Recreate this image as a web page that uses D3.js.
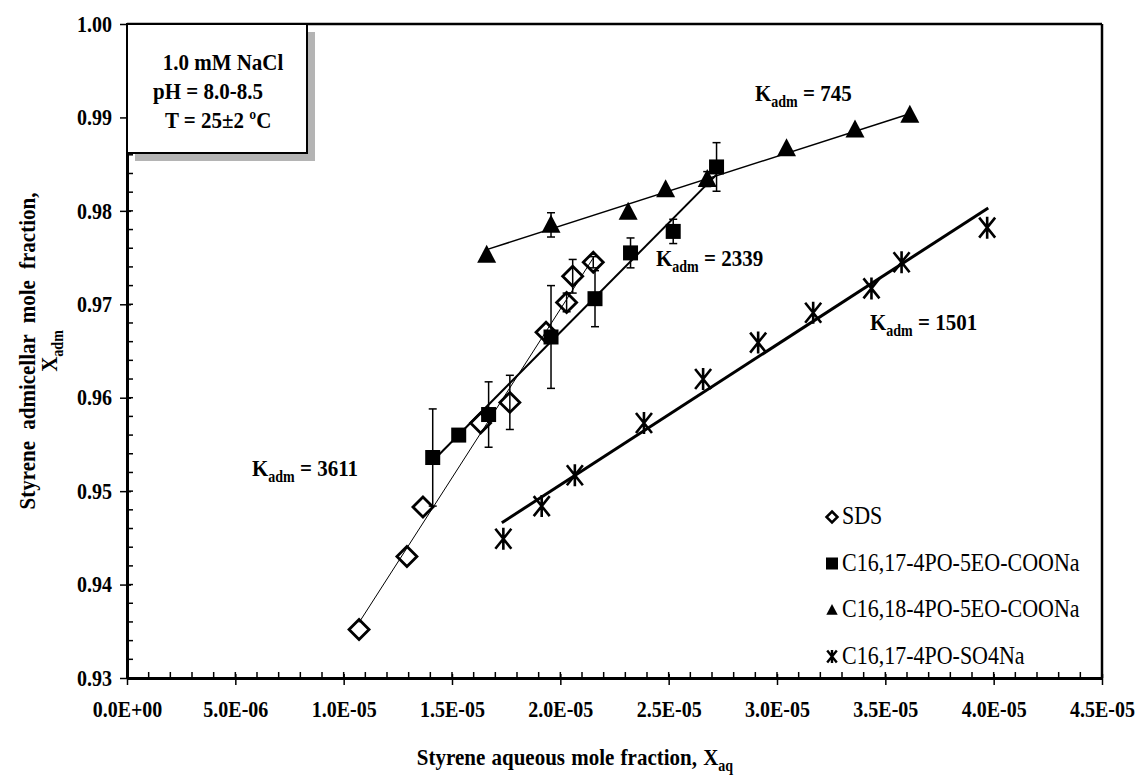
<!DOCTYPE html>
<html>
<head>
<meta charset="utf-8">
<script src="https://cdn.jsdelivr.net/npm/d3@7"></script>
<style>
  body { margin: 0; background: #fff; }
  svg { display: block; }
  text { font-family: "Liberation Serif", "Times New Roman", serif; fill: #000; }
</style>
</head>
<body>
<svg id="chart"></svg>
<script>
// SDS (open diamonds)
var sdsX = [1.071e-5, 1.292e-5, 1.366e-5, 1.632e-5, 1.767e-5, 1.934e-5, 2.029e-5, 2.057e-5, 2.152e-5];
var sdsY = [0.9352, 0.9430, 0.9483, 0.9573, 0.9595, 0.9670, 0.9702, 0.9730, 0.9745];
var sdsErr = [0, 0, 0, 0, 0.0029, 0, 0.0010, 0.0018, 0.0006];

// C16,17-4PO-5EO-COONa (filled squares)
var sqX = [1.411e-5, 1.531e-5, 1.669e-5, 1.957e-5, 2.160e-5, 2.324e-5, 2.521e-5, 2.721e-5];
var sqY = [0.9536, 0.9560, 0.9582, 0.9665, 0.9706, 0.9755, 0.9778, 0.9847];
var sqErr = [0.0052, 0, 0.0035, 0.0055, 0.0030, 0.0016, 0.0013, 0.0026];

// C16,18-4PO-5EO-COONa (filled triangles)
var triX = [1.660e-5, 1.957e-5, 2.313e-5, 2.486e-5, 2.678e-5, 3.044e-5, 3.360e-5, 3.613e-5];
var triY = [0.9753, 0.9785, 0.9799, 0.9823, 0.9834, 0.9867, 0.9887, 0.9903];
var triErr = [0, 0.0013, 0, 0, 0.0008, 0, 0, 0];

// C16,17-4PO-SO4Na (star)
var starX = [1.737e-5, 1.914e-5, 2.067e-5, 2.386e-5, 2.659e-5, 2.913e-5, 3.167e-5, 3.436e-5, 3.575e-5, 3.970e-5];
var starY = [0.9449, 0.9484, 0.9517, 0.9573, 0.9620, 0.9659, 0.9691, 0.9717, 0.9745, 0.9782];

// linear fits: slope = K_adm
var fitK = [3611, 2339, 745, 1501];
var fitB = [0.89726, 0.92023, 0.96348, 0.92065];
var fitFrom = [1.071e-5, 1.411e-5, 1.660e-5, 1.730e-5];
var fitTo = [2.152e-5, 2.721e-5, 3.613e-5, 3.975e-5];
var fitWidth = [1, 2, 1.5, 3];

var legendNames = ["SDS", "C16,17-4PO-5EO-COONa", "C16,18-4PO-5EO-COONa", "C16,17-4PO-SO4Na"];
var conditions = ["1.0 mM NaCl", "pH = 8.0-8.5", "T = 25\u00b12 \u00baC"];

var xTicks = d3.range(0, 4.51e-5, 5e-6);
var yTicks = [0.93, 0.94, 0.95, 0.96, 0.97, 0.98, 0.99, 1.00];

var width = 1140, height = 783;
var SY = 1.12; // glyphs in the original are a bit tall

var svg = d3.select("#chart").attr("width", width).attr("height", height);

var x = d3.scaleLinear().domain([0, 4.5e-5]).range([127, 1102]);
var y = d3.scaleLinear().domain([0.93, 1.00]).range([678, 24]);

function fmtE(v) {
  if (Math.abs(v) < 1e-12) return "0.0E+00";
  var e = Math.floor(Math.log10(v) + 1e-9);
  var m = v / Math.pow(10, e);
  return m.toFixed(1) + "E" + (e < 0 ? "-" : "+") + String(Math.abs(e)).padStart(2, "0");
}

function txt(g, px, py, size, weight, anchor) {
  return g.append("text")
    .attr("transform", "translate(" + px + "," + py + ") scale(1," + SY + ")")
    .attr("font-size", size)
    .attr("font-weight", weight)
    .attr("text-anchor", anchor || "start");
}

// minor ticks (inside)
var xMinor = d3.range(0, 4.5e-5 + 1e-12, 1e-6);
svg.append("g").selectAll("line").data(xMinor).enter().append("line")
  .attr("x1", function(d){ return x(d); }).attr("x2", function(d){ return x(d); })
  .attr("y1", 678).attr("y2", 672)
  .attr("stroke", "#000").attr("stroke-width", 1.5);
var yMinor = d3.range(0.93, 1.0001, 0.002);
svg.append("g").selectAll("line").data(yMinor).enter().append("line")
  .attr("y1", function(d){ return y(d); }).attr("y2", function(d){ return y(d); })
  .attr("x1", 127).attr("x2", 133)
  .attr("stroke", "#000").attr("stroke-width", 1.5);

// axes
var xAxis = svg.append("g").attr("transform", "translate(0,678)")
  .call(d3.axisBottom(x).tickValues(xTicks).tickFormat(fmtE).tickSizeInner(7).tickSizeOuter(0).tickPadding(14));
var yAxis = svg.append("g").attr("transform", "translate(127,0)")
  .call(d3.axisLeft(y).tickValues(yTicks).tickFormat(d3.format(".2f")).tickSizeInner(7).tickSizeOuter(0).tickPadding(8));
[xAxis, yAxis].forEach(function(a) {
  a.select(".domain").attr("stroke", "#000").attr("stroke-width", 3);
  a.selectAll(".tick line").attr("stroke", "#000").attr("stroke-width", 1.5);
  a.selectAll(".tick text").attr("font-family", "Liberation Serif, Times New Roman, serif")
    .attr("font-size", 20).attr("font-weight", "bold").attr("fill", "#000")
    .attr("transform", "scale(1," + SY + ")");
});
xAxis.selectAll(".tick line").attr("y1", -4);
yAxis.selectAll(".tick line").attr("x1", 4);

// top and right frame
svg.append("line").attr("x1", 127).attr("x2", 1102).attr("y1", 24).attr("y2", 24)
  .attr("stroke", "#000").attr("stroke-width", 2.5);
svg.append("line").attr("x1", 1102).attr("x2", 1102).attr("y1", 24).attr("y2", 678)
  .attr("stroke", "#000").attr("stroke-width", 2.5);

// conditions box with shadow
svg.append("rect").attr("x", 135).attr("y", 32).attr("width", 180).attr("height", 129)
  .attr("fill", "#b4b4b4");
svg.append("rect").attr("x", 127).attr("y", 24).attr("width", 180).attr("height", 129)
  .attr("fill", "#fff").attr("stroke", "#000").attr("stroke-width", 2);
var condX = [223, 153, 165];
var condAnchor = ["middle", "start", "start"];
conditions.forEach(function(c, i) {
  txt(svg, condX[i], 70 + i * 29, 21, "bold", condAnchor[i]).text(c);
});

// axis titles
var xt = txt(svg, 575, 765, 21, "bold", "middle").attr("word-spacing", 1);
xt.append("tspan").text("Styrene aqueous mole fraction,  X");
xt.append("tspan").attr("font-size", 14).attr("dy", 5).text("aq");

var yt = svg.append("g").attr("transform", "translate(35,351) rotate(-90)");
yt.append("text").attr("text-anchor", "middle").attr("font-size", 21).attr("font-weight", "bold")
  .attr("word-spacing", 6)
  .attr("transform", "scale(1," + SY + ")")
  .text("Styrene admicellar mole fraction,");
var yt2 = yt.append("text").attr("text-anchor", "middle").attr("font-size", 21).attr("font-weight", "bold")
  .attr("transform", "translate(0,22) scale(1," + SY + ")");
yt2.append("tspan").text("X");
yt2.append("tspan").attr("font-size", 14).attr("dy", 5).text("adm");

// markers
var diamond = "M0,-10L10,0L0,10L-10,0Z";
var triangle = "M0,-10L9.5,8L-9.5,8Z";
var star = "M-8,-10L8,10M8,-10L-8,10M0,-11L0,11";

function pts(xs, ys, es) {
  return xs.map(function(v, i){ return { x: v, y: ys[i], e: es ? es[i] : 0 }; });
}
var sds = pts(sdsX, sdsY, sdsErr);
var sq = pts(sqX, sqY, sqErr);
var tri = pts(triX, triY, triErr);
var st = pts(starX, starY);

var marks = svg.append("g");
marks.selectAll(".sds").data(sds).enter().append("path").attr("class", "sds")
  .attr("d", diamond).attr("transform", function(d){ return "translate(" + x(d.x) + "," + y(d.y) + ")"; })
  .attr("fill", "#fff").attr("stroke", "#000").attr("stroke-width", 2.8);
marks.selectAll(".sq").data(sq).enter().append("rect").attr("class", "sq")
  .attr("x", function(d){ return x(d.x) - 7.5; }).attr("y", function(d){ return y(d.y) - 7.5; })
  .attr("width", 15).attr("height", 15).attr("fill", "#000");
marks.selectAll(".tri").data(tri).enter().append("path").attr("class", "tri")
  .attr("d", triangle).attr("transform", function(d){ return "translate(" + x(d.x) + "," + y(d.y) + ")"; })
  .attr("fill", "#000");
marks.selectAll(".st").data(st).enter().append("path").attr("class", "st")
  .attr("d", star).attr("transform", function(d){ return "translate(" + x(d.x) + "," + y(d.y) + ")"; })
  .attr("fill", "none").attr("stroke", "#000").attr("stroke-width", 2.6);

// error bars
var errs = sds.concat(sq, tri).filter(function(d){ return d.e > 0; });
var eb = svg.append("g").attr("stroke", "#000").attr("stroke-width", 1.5);
errs.forEach(function(d) {
  var cx = x(d.x), y0 = y(d.y - d.e), y1 = y(d.y + d.e);
  eb.append("line").attr("x1", cx).attr("x2", cx).attr("y1", y0).attr("y2", y1);
  eb.append("line").attr("x1", cx - 4).attr("x2", cx + 4).attr("y1", y0).attr("y2", y0);
  eb.append("line").attr("x1", cx - 4).attr("x2", cx + 4).attr("y1", y1).attr("y2", y1);
});

// fit lines
var line = d3.line().x(function(d){ return x(d[0]); }).y(function(d){ return y(d[1]); });
fitK.forEach(function(k, i) {
  var seg = [[fitFrom[i], fitB[i] + k * fitFrom[i]], [fitTo[i], fitB[i] + k * fitTo[i]]];
  svg.append("path").attr("d", line(seg)).attr("fill", "none")
    .attr("stroke", "#000").attr("stroke-width", fitWidth[i]);
});

// K_adm labels
var kPos = [[252, 476], [656, 266], [755, 101], [870, 330]];
fitK.forEach(function(k, i) {
  var t = txt(svg, kPos[i][0], kPos[i][1], 21, "bold");
  t.append("tspan").text("K");
  t.append("tspan").attr("font-size", 14).attr("dy", 5).text("adm");
  t.append("tspan").attr("dy", -5).text(" = " + k);
});

// legend
legendNames.forEach(function(name, i) {
  var ly = 517 + i * 46.5;
  var g = svg.append("g").attr("transform", "translate(832," + ly + ")");
  if (i === 1) {
    g.append("rect").attr("x", -6).attr("y", -6).attr("width", 12).attr("height", 12).attr("fill", "#000");
  } else if (i === 0) {
    g.append("path").attr("d", diamond).attr("transform", "scale(0.55)")
      .attr("fill", "#fff").attr("stroke", "#000").attr("stroke-width", 4.5);
  } else if (i === 2) {
    g.append("path").attr("d", triangle).attr("transform", "scale(0.6)").attr("fill", "#000");
  } else {
    g.append("path").attr("d", star).attr("transform", "scale(0.6)")
      .attr("fill", "none").attr("stroke", "#000").attr("stroke-width", 4);
  }
  txt(svg, 842, ly + 7, 22, "normal").text(name);
});
</script>
</body>
</html>
